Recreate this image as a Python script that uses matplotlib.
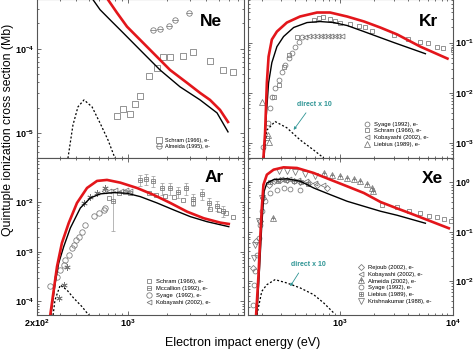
import numpy as np
import matplotlib
matplotlib.use("Agg")
import matplotlib.pyplot as plt
from matplotlib.ticker import FuncFormatter, FixedLocator, FixedFormatter

plt.rcParams['font.family'] = ['Liberation Sans', 'DejaVu Sans']
plt.rcParams['mathtext.fontset'] = 'custom'
plt.rcParams['mathtext.rm'] = 'Liberation Sans'
plt.rcParams['mathtext.bf'] = 'Liberation Sans:bold'

# ---------------- Ne ----------------
ne_red_E = [703, 824, 985, 1240, 1560, 2110, 2850, 3590, 4280, 5110, 5890]
ne_red_s = [3.83e-4, 2.68e-4, 1.83e-4, 1.28e-4, 8.96e-5, 5.6e-5, 3.94e-5, 2.99e-5, 2.47e-5, 1.88e-5, 1.35e-5]
ne_blk_E = [539, 611, 729, 918, 1240, 1767, 2518, 3590, 4850, 5890]
ne_blk_s = [3.83e-4, 2.91e-4, 2.21e-4, 1.55e-4, 9.7e-5, 5.6e-5, 3.53e-5, 2.47e-5, 1.73e-5, 1.03e-5]
ne_dir_E = [346, 378, 413, 460, 530, 611, 703, 796]
ne_dir_s = [5.0e-6, 1.24e-5, 2.04e-5, 2.47e-5, 2.04e-5, 1.31e-5, 8.26e-6, 5.0e-6]
ne_schram_E = [824, 918, 1038, 1135, 1240, 1455, 1675, 1862, 2110, 2655, 3170, 4280, 5390, 6440]
ne_schram_s = [1.59e-5, 1.93e-5, 1.68e-5, 2.21e-5, 2.76e-5, 4.77e-5, 5.94e-5, 8.03e-5, 8.03e-5, 8.26e-5, 9.2e-5, 7.2e-5, 5.62e-5, 5.3e-5]
ne_almeida_E = [1560, 1767, 2070, 2305, 2952]
ne_almeida_s = [1.68e-4, 1.73e-4, 1.88e-4, 2.21e-4, 2.68e-4]

# ---------------- Kr ----------------
kr_red_E = [208, 215, 223, 231, 247, 274, 336, 440, 623, 814, 1155, 1637, 2275, 3227, 5180, 9020]
kr_red_s = [5.2e-4, 1.58e-3, 1.58e-2, 5.25e-2, 0.115, 0.166, 0.251, 0.331, 0.398, 0.398, 0.331, 0.263, 0.2, 0.145, 0.083, 0.048]
kr_blk_E = [211, 220, 231, 247, 274, 314, 386, 508, 663, 879, 1155, 1628, 2275, 3015, 5740]
kr_blk_s = [5.2e-4, 3.3e-3, 1.58e-2, 3.98e-2, 8.3e-2, 0.132, 0.2, 0.251, 0.263, 0.251, 0.219, 0.166, 0.126, 0.1, 0.06]
kr_dir_E = [208, 223, 264, 336, 440, 582, 715]
kr_dir_s = [5.0e-4, 1.8e-3, 2.67e-3, 2.0e-3, 1.15e-3, 7.2e-4, 5.0e-4]
kr_syage_E = [208, 226, 236, 247, 264, 284, 303, 325, 348, 373, 399, 428, 458]
kr_syage_s = [8.4e-4, 2.5e-3, 5e-3, 8.3e-3, 1.26e-2, 1.82e-2, 2.63e-2, 3.63e-2, 0.05, 0.063, 0.083, 0.105, 0.132]
kr_schram_E = [223, 256, 284, 314, 348, 413, 582, 645, 705, 819, 902, 1000, 1228, 1469, 1682, 1930,
               3015, 4050, 5180, 6110, 7350, 8310, 10000]
kr_schram_s = [1.26e-3, 8.3e-3, 1.45e-2, 3.3e-2, 5.75e-2, 0.132, 0.288, 0.316, 0.331, 0.302, 0.275, 0.251,
               0.24, 0.219, 0.2, 0.174, 0.145, 0.12, 0.105, 0.1, 0.083, 0.079, 0.072]
kr_koba_E = [490, 530, 575, 620, 670, 720, 775, 835, 900, 960, 1030]
kr_koba_s = [0.132, 0.135, 0.137, 0.135, 0.137, 0.135, 0.135, 0.133, 0.135, 0.133, 0.135]
kr_liebius_E = [201, 226, 231]
kr_liebius_s = [6.6e-3, 1.45e-3, 1.06e-3]

# ---------------- Ar ----------------
ar_red_E = [253, 269, 285, 311, 351, 406, 485, 579, 691, 875, 1175, 1580, 2120, 2850, 3830, 5140, 5970]
ar_red_s = [5.3e-5, 1.7e-4, 5.05e-4, 1.52e-3, 3.86e-3, 9.77e-3, 1.96e-2, 2.72e-2, 2.85e-2, 2.51e-2,
            1.96e-2, 1.42e-2, 9.77e-3, 6.52e-3, 4.8e-3, 3.91e-3, 3.68e-3]
ar_blk_E = [256, 276, 294, 321, 361, 431, 514, 614, 778, 985, 1247, 1675, 2254, 3020, 4060, 5970]
ar_blk_s = [5.3e-5, 2.37e-4, 6e-4, 1.28e-3, 3.05e-3, 7.74e-3, 1.23e-2, 1.49e-2, 1.58e-2, 1.53e-2,
            1.31e-2, 9.77e-3, 7.05e-3, 5.17e-3, 4.09e-3, 3.24e-3]
ar_dir_E = [266, 275, 302, 340, 383, 444, 500]
ar_dir_s = [5.3e-5, 1.07e-4, 2.15e-4, 1.7e-4, 1.17e-4, 7.85e-5, 5.3e-5]
ar_mcc_E = [769, 1240, 1372, 1570, 1820, 2110, 2444, 2800, 3185, 3700, 4230, 4820, 5360]
ar_mcc_s = [1.07e-2, 2.85e-2, 2.99e-2, 2.72e-2, 1.94e-2, 1.94e-2, 1.65e-2, 1.94e-2, 1.16e-2, 1.49e-2, 9.9e-3, 8.6e-3, 6.8e-3]
ar_mcc_err = [8e-3, 7e-3, 7e-3, 6.5e-3, 5e-3, 5e-3, 4e-3, 5e-3, 3e-3, 3.5e-3, 2.5e-3, 2e-3, 1.7e-3]
ar_schram_E = [712, 849, 955, 1045, 1441, 1655, 1940, 2244, 2640, 3180, 4270, 4980, 5710, 6470]
ar_schram_s = [1.22e-2, 1.53e-2, 1.65e-2, 1.53e-2, 1.52e-2, 1.42e-2, 1.35e-2, 1.27e-2, 1.12e-2, 9.77e-3,
               7.3e-3, 7.05e-3, 6.1e-3, 5.2e-3]
ar_syage_E = [253, 285, 302, 321, 330, 351, 372, 383, 401, 419, 444, 471, 546, 597, 652, 670]
ar_syage_s = [2.06e-4, 3.17e-4, 4.33e-4, 5.46e-4, 6.9e-4, 8.7e-4, 1.19e-3, 1.38e-3, 1.75e-3, 2.04e-3,
              2.57e-3, 3.5e-3, 5.3e-3, 6e-3, 7.05e-3, 7.6e-3]
ar_koba_E = [650, 720, 800, 880, 960, 1030]
ar_koba_s = [1.7e-2, 1.72e-2, 1.75e-2, 1.72e-2, 1.75e-2, 1.7e-2]
ar_star_E = [294, 321, 340, 457, 514, 579, 670]
ar_star_s = [1.16e-4, 2.15e-4, 5.05e-4, 9.6e-3, 1.31e-2, 1.58e-2, 1.94e-2]

# ---------------- Xe ----------------
xe_red_E = [179, 188, 194, 201, 208, 223, 256, 314, 413, 582, 819, 1155, 1628, 2290, 3227, 4070, 9270]
xe_red_s = [2.08e-3, 1.35e-2, 6.42e-2, 0.304, 0.902, 1.44, 1.82, 2.03, 1.97, 1.56, 1.14, 0.837, 0.612,
            0.402, 0.297, 0.244, 0.118]
xe_blk_E = [182, 192, 201, 211, 223, 256, 336, 443, 582, 819, 1155, 1628, 2290, 3227, 5740]
xe_blk_s = [2.08e-3, 1.84e-2, 0.139, 0.663, 0.977, 1.14, 1.19, 1.06, 0.774, 0.566, 0.416, 0.329, 0.261, 0.216, 0.149]
xe_dir_E = [182, 201, 223, 264, 336, 443, 582, 715, 879]
xe_dir_s = [2.08e-3, 6.2e-3, 8.45e-3, 1.07e-2, 9.15e-3, 7.24e-3, 5.3e-3, 3.6e-3, 2.25e-3]
xe_rejoub_E = [167, 179, 192, 208, 231, 256, 293, 336, 386, 443, 526, 623, 765]
xe_rejoub_s = [1.84e-2, 6.42e-2, 0.163, 0.485, 0.902, 1.06, 1.14, 1.14, 1.09, 1.02, 0.977, 0.902, 0.774]
xe_koba_E = [260, 300, 350, 420, 500, 600, 700]
xe_koba_s = [1.15, 1.2, 1.18, 1.12, 1.05, 0.98, 0.9]
xe_almeida_E = [252, 715, 848, 1006, 1155, 1325, 1518, 1743, 1930, 1970]
xe_almeida_s = [0.19, 1.56, 1.44, 1.34, 1.23, 1.19, 1.06, 0.93, 0.774, 0.663]
xe_syage_E = [167, 172, 176, 182, 188, 194, 201, 215, 238, 274, 314, 360, 443]
xe_syage_s = [3.3e-3, 8.5e-3, 1.58e-2, 3.43e-2, 7.5e-2, 0.139, 0.26, 0.416, 0.612, 0.715, 0.774, 0.75, 0.715]
xe_liebius_E = [240, 280, 330, 390, 450, 520]
xe_liebius_s = [1.0, 1.08, 1.1, 1.05, 1.0, 0.95]
xe_krish_E = [170, 176, 188, 201, 284, 336, 399, 490, 602]
xe_krish_s = [2.94e-2, 5.47e-2, 0.163, 0.485, 1.69, 1.73, 1.63, 1.49, 1.34]
xe_schram_E = [2357, 3210, 4070, 5180, 6140, 7300, 8360, 9600]
xe_schram_s = [0.35, 0.314, 0.268, 0.237, 0.209, 0.197, 0.179, 0.168]

RED = '#e3161b'
GRAY = '#767676'
TEAL = '#2f9595'

fig = plt.figure(figsize=(4.74, 3.52), dpi=100)
W, H = 474.0, 352.0
def add_ax(x0, y0, x1, y1, **kw):
    return fig.add_axes([x0 / W, 1 - y1 / H, (x1 - x0) / W, (y1 - y0) / H], **kw)

ax_ne = add_ax(37, -1, 243.5, 158)
ax_ar = add_ax(37, 158, 243.5, 315, sharex=ax_ne)
ax_kr = add_ax(247.5, -1, 452.5, 158)
ax_xe = add_ax(247.5, 158, 452.5, 315, sharex=ax_kr)

def curves(ax, rE, rs, bE, bs, dE, ds):
    ax.plot(dE, ds, color='black', lw=0.9, ls=(0, (1.6, 1.6)), zorder=3)
    ax.plot(bE, bs, color='black', lw=1.0, zorder=4)
    ax.plot(rE, rs, color=RED, lw=1.9, zorder=5)

def pts(ax, E, s, marker, ms=3.5, mew=0.55):
    h, = ax.plot(E, s, ls='none', marker=marker, mfc='none', mec=GRAY, mew=mew, ms=ms, zorder=2)
    return h

# Ne
curves(ax_ne, ne_red_E, ne_red_s, ne_blk_E, ne_blk_s, ne_dir_E, ne_dir_s)
h1 = pts(ax_ne, ne_schram_E, ne_schram_s, 's', ms=3.8)
h2a = pts(ax_ne, ne_almeida_E, ne_almeida_s, 'o', ms=3.9)
h2b = pts(ax_ne, ne_almeida_E, ne_almeida_s, '_', ms=3.9)
ax_ne.legend([h1, (h2a, h2b)], ['Schram (1966), e-', 'Almeida (1995), e-'], loc='lower left',
             bbox_to_anchor=(0.575, 0.055), frameon=False, fontsize=4.0, handlelength=1.0,
             handletextpad=0.7, labelspacing=0.3, borderpad=0, borderaxespad=0)

# Kr
curves(ax_kr, kr_red_E, kr_red_s, kr_blk_E, kr_blk_s, kr_dir_E, kr_dir_s)
k1 = pts(ax_kr, kr_syage_E, kr_syage_s, 'o')
k2 = pts(ax_kr, kr_schram_E, kr_schram_s, 's')
k3 = pts(ax_kr, kr_koba_E, kr_koba_s, '<')
k4 = pts(ax_kr, kr_liebius_E, kr_liebius_s, '^', ms=3.9)
ax_kr.legend([k1, k2, k3, k4], ['Syage (1992), e-', 'Schram (1966), e-', 'Kobayashi (2002), e-',
             'Liebius (1989), e-'], loc='lower left', bbox_to_anchor=(0.57, 0.07), frameon=False,
             fontsize=4.2, handlelength=1.0, handletextpad=0.6, labelspacing=0.28, borderpad=0,
             borderaxespad=0)
ax_kr.text(586, 5.75e-3, 'direct x 10', color=TEAL, fontsize=5, fontweight='bold', ha='center', va='center')
ax_kr.annotate('', xy=(386, 1.82e-3), xytext=(497, 3.98e-3),
               arrowprops=dict(arrowstyle='-|>', color=TEAL, lw=0.6, mutation_scale=4, shrinkA=0, shrinkB=0))

# Ar
curves(ax_ar, ar_red_E, ar_red_s, ar_blk_E, ar_blk_s, ar_dir_E, ar_dir_s)
a1 = pts(ax_ar, ar_schram_E, ar_schram_s, 's')
ax_ar.errorbar(ar_mcc_E, ar_mcc_s, yerr=ar_mcc_err, fmt='none', ecolor='#9a9a9a', elinewidth=0.5,
               capsize=1.3, capthick=0.5, zorder=1)
a2a = pts(ax_ar, ar_mcc_E, ar_mcc_s, 's')
a2b = pts(ax_ar, ar_mcc_E, ar_mcc_s, '_')
a3 = pts(ax_ar, ar_syage_E, ar_syage_s, 'o', ms=3.9)
a4 = pts(ax_ar, ar_koba_E, ar_koba_s, '<')
pts(ax_ar, ar_star_E, ar_star_s, (6, 2, 0), ms=4.5, mew=0.6)
ax_ar.legend([a1, (a2a, a2b), a3, a4], ['Schram (1966), e-', 'Mccallion (1992), e-', 'Syage  (1992), e-',
             'Kobayashi (2002), e-'], loc='lower left', bbox_to_anchor=(0.53, 0.065), frameon=False,
             fontsize=4.2, handlelength=1.0, handletextpad=0.7, labelspacing=0.33, borderpad=0,
             borderaxespad=0)

# Xe
curves(ax_xe, xe_red_E, xe_red_s, xe_blk_E, xe_blk_s, xe_dir_E, xe_dir_s)
pts(ax_xe, xe_schram_E, xe_schram_s, 's')
x1 = pts(ax_xe, xe_rejoub_E, xe_rejoub_s, 'D', ms=3.1)
x2 = pts(ax_xe, xe_koba_E, xe_koba_s, '<')
x3a = pts(ax_xe, xe_almeida_E, xe_almeida_s, '^', ms=3.9)
x3b = pts(ax_xe, xe_almeida_E, xe_almeida_s, '+', ms=3.0)
x4 = pts(ax_xe, xe_syage_E, xe_syage_s, 'o')
x5a = pts(ax_xe, xe_liebius_E, xe_liebius_s, 's')
x5b = pts(ax_xe, xe_liebius_E, xe_liebius_s, '+', ms=3.5)
x6 = pts(ax_xe, xe_krish_E, xe_krish_s, 'v', ms=3.9)
ax_xe.legend([x1, x2, (x3a, x3b), x4, (x5a, x5b), x6],
             ['Rejoub (2002), e-', 'Kobayashi (2002), e-', 'Almeida (2002), e-', 'Syage (1992), e-',
              'Liebius (1989), e-', 'Krishnakumar (1988), e-'], loc='lower left',
             bbox_to_anchor=(0.54, 0.07), frameon=False, fontsize=4.2, handlelength=1.0,
             handletextpad=0.7, labelspacing=0.3, borderpad=0, borderaxespad=0)
ax_xe.text(518, 2.12e-2, 'direct x 10', color=TEAL, fontsize=5, fontweight='bold', ha='center', va='center')
ax_xe.annotate('', xy=(360, 7.85e-3), xytext=(428, 1.46e-2),
               arrowprops=dict(arrowstyle='-|>', color=TEAL, lw=0.6, mutation_scale=4, shrinkA=0, shrinkB=0))

# axes setup
limits = {ax_ne: ((200, 7750), (5.04e-6, 3.9e-4)),
          ax_ar: ((200, 7750), (5.33e-5, 7.9e-2)),
          ax_kr: ((150, 10000), (5.0e-4, 0.74)),
          ax_xe: ((150, 10000), (2.05e-3, 3.14))}
pow_fmt = FuncFormatter(lambda v, p: r'$\mathbf{10^{%d}}$' % int(round(np.log10(v))))
for ax, (xl, yl) in limits.items():
    ax.set_xscale('log')
    ax.set_yscale('log')
    ax.set_xlim(*xl)
    ax.set_ylim(*yl)
    ax.yaxis.set_major_formatter(pow_fmt)
    ax.tick_params(which='both', direction='in', top=True, right=True, left=True, bottom=True,
                   colors='#555555', labelcolor='black', labelsize=6.5, width=0.6, pad=2)
    ax.tick_params(which='major', length=3)
    ax.tick_params(which='minor', length=1.6)
    for sp in ax.spines.values():
        sp.set_color('#555555')
        sp.set_linewidth(0.8)
    ax.yaxis.set_minor_formatter(FuncFormatter(lambda v, p: ''))
    ax.xaxis.set_minor_formatter(FuncFormatter(lambda v, p: ''))

for ax in (ax_kr, ax_xe):
    ax.tick_params(which='both', labelleft=False, labelright=True)
for ax in (ax_ne, ax_kr):
    ax.tick_params(which='both', labelbottom=False)

ax_ar.xaxis.set_major_locator(FixedLocator([200, 1000]))
ax_ar.xaxis.set_major_formatter(FixedFormatter([r'$\mathbf{2x10^{2}}$', r'$\mathbf{10^{3}}$']))
ax_xe.xaxis.set_major_formatter(pow_fmt)

for ax, name, (x, y) in ((ax_ne, 'Ne', (211, 21.5)), (ax_kr, 'Kr', (429, 21.5)),
                         (ax_ar, 'Ar', (214, 177)), (ax_xe, 'Xe', (432, 178))):
    fig.text(x / W, 1 - y / H, name, fontsize=12.5, fontweight='bold', ha='center', va='center')

fig.text(8 / W, 1 - 130 / H, 'Quintuple ionization cross section (Mb)', rotation=90, fontsize=8.8,
         ha='center', va='center')
fig.text(243 / W, 1 - 343 / H, 'Electron impact energy (eV)', fontsize=9, ha='center', va='center')

fig.savefig('out.png', dpi=100)
